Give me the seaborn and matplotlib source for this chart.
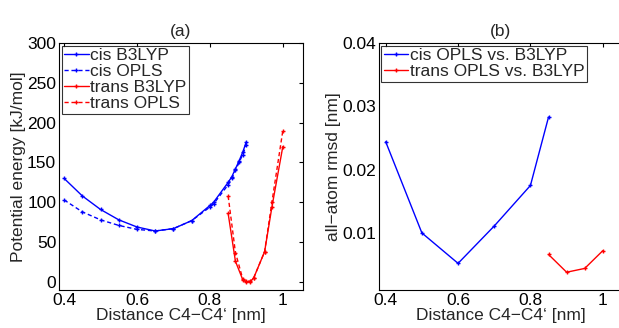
import pandas as pd
import numpy as np
import matplotlib
matplotlib.use('Agg')
import matplotlib.pyplot as plt
import seaborn as sns

# (a) potential energy scans
cis_x = [0.4, 0.45, 0.5, 0.55, 0.6, 0.65, 0.7, 0.75, 0.8, 0.81, 0.85, 0.86, 0.87, 0.88, 0.89, 0.9]
cis_b3lyp = [130, 108, 91, 78, 69, 64, 67, 77, 96, 100, 125, 132, 142, 152, 163, 176]
cis_opls = [103, 88, 78, 71, 66, 64, 67, 77, 94, 98, 122, 130, 140, 150, 160, 172]

trans_x = [0.85, 0.87, 0.89, 0.9, 0.91, 0.92, 0.95, 0.97, 1.0]
trans_b3lyp = [86, 26, 3, 0, 0, 5, 38, 94, 170]
trans_opls = [108, 37, 4, 1, 1, 5, 38, 100, 190]

# (b) rmsd OPLS vs B3LYP
rmsd_cis_x = [0.4, 0.5, 0.6, 0.7, 0.8, 0.85]
rmsd_cis = [0.0244, 0.0100, 0.0052, 0.0111, 0.0175, 0.0283]
rmsd_trans_x = [0.85, 0.9, 0.95, 1.0]
rmsd_trans = [0.0066, 0.0038, 0.0044, 0.0072]

sns.set_style('white')
plt.rcParams['font.family'] = ['Liberation Sans', 'DejaVu Sans']
plt.rcParams['font.size'] = 12.5
plt.rcParams['xtick.direction'] = 'in'
plt.rcParams['ytick.direction'] = 'in'
plt.rcParams['xtick.top'] = True
plt.rcParams['ytick.right'] = True
plt.rcParams['xtick.major.size'] = 3
plt.rcParams['ytick.major.size'] = 3

fig = plt.figure(figsize=(6.19, 3.28), dpi=100)
ax1 = fig.add_axes([0.0953, 0.116, 0.394, 0.753])
ax2 = fig.add_axes([0.612, 0.116, 0.394, 0.753])

def kw(c):
    return dict(color=c, marker='+', markersize=3, markeredgewidth=1,
                markeredgecolor=c, linewidth=1)

dash = (0, (3, 2))
sns.lineplot(x=cis_x, y=cis_b3lyp, ax=ax1, linestyle='-', label='cis B3LYP', **kw('blue'))
sns.lineplot(x=cis_x, y=cis_opls, ax=ax1, linestyle=dash, label='cis OPLS', **kw('blue'))
sns.lineplot(x=trans_x, y=trans_b3lyp, ax=ax1, linestyle='-', label='trans B3LYP', **kw('red'))
sns.lineplot(x=trans_x, y=trans_opls, ax=ax1, linestyle=dash, label='trans OPLS', **kw('red'))

sns.lineplot(x=rmsd_cis_x, y=rmsd_cis, ax=ax2, label='cis OPLS vs. B3LYP', **kw('blue'))
sns.lineplot(x=rmsd_trans_x, y=rmsd_trans, ax=ax2, label='trans OPLS vs. B3LYP', **kw('red'))

ax1.set_xlim(0.386, 1.055)
ax1.set_ylim(-10, 300)
ax1.set_xticks([0.4, 0.6, 0.8, 1.0])
ax1.set_xticklabels(['0.4', '0.6', '0.8', '1'])
ax1.set_yticks(range(0, 301, 50))
ax1.set_title('(a)', fontsize=12.5, pad=5)
ax1.set_xlabel('Distance C4\u2212C4\u2018 [nm]', labelpad=0)
ax1.set_ylabel('Potential energy [kJ/mol]', labelpad=1)

ax2.set_xlim(0.381, 1.055)
ax2.set_ylim(0.001, 0.04)
ax2.set_xticks([0.4, 0.6, 0.8, 1.0])
ax2.set_xticklabels(['0.4', '0.6', '0.8', '1'])
ax2.set_yticks([0.01, 0.02, 0.03, 0.04])
ax2.set_title('(b)', fontsize=12.5, pad=5)
ax2.set_xlabel('Distance C4\u2212C4\u2018 [nm]', labelpad=0)
ax2.set_ylabel('all\u2212atom rmsd [nm]', labelpad=1)

for ax in (ax1, ax2):
    for s in ax.spines.values():
        s.set_color('black')
        s.set_linewidth(0.8)
    ax.tick_params(colors='black', pad=2)
    leg = ax.legend(loc='upper left', frameon=True, fancybox=False, handlelength=1.4,
                    handletextpad=0.1, borderpad=0.15, labelspacing=0.05,
                    borderaxespad=0.15, fontsize=12.5)
    leg.get_frame().set_edgecolor('black')
    leg.get_frame().set_linewidth(0.8)

fig.savefig('out.png', dpi=100)
